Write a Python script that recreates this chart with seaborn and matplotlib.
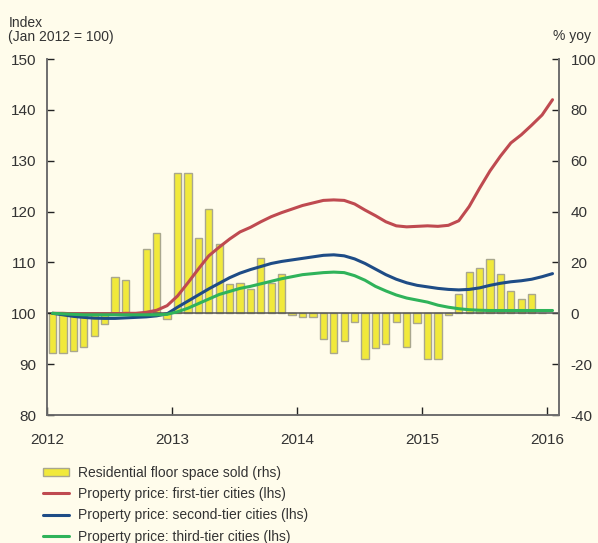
import numpy as np
import pandas as pd
import matplotlib
matplotlib.use("Agg")
import matplotlib.pyplot as plt
from matplotlib.patches import Patch
from matplotlib.lines import Line2D
import seaborn as sns

# monthly data, Jan 2012 onwards
floor_space = [  # % yoy, Jan 2012 - Dec 2015
    -15.7, -15.7, -14.8, -13.2, -8.9, -4.3, 14.4, 13.1, 0.0, 25.1, 31.7, -2.4,
    55.3, 55.3, 29.5, 41.1, 27.4, 11.7, 12.1, 9.7, 21.6, 11.8, 15.3, -0.7,
    -1.3, -1.3, -10.2, -15.7, -10.7, -3.4, -18.1, -13.5, -12.1, -3.3, -13.2, -3.9,
    -17.8, -17.8, -0.8, 7.5, 16.1, 17.9, 21.2, 15.4, 8.8, 5.8, 7.6, 0.3,
]
first_tier = [  # index, Jan 2012 - Jan 2016
    100.0, 100.0, 99.9, 99.9, 99.9, 99.9, 99.9, 100.0, 100.0, 100.2, 100.6, 101.5,
    103.4, 106.0, 108.7, 111.3, 113.0, 114.6, 116.0, 116.9, 118.0, 119.0, 119.8, 120.5,
    121.2, 121.7, 122.2, 122.3, 122.2, 121.5, 120.3, 119.2, 118.0, 117.2, 117.0, 117.1,
    117.2, 117.1, 117.3, 118.2, 121.0, 124.6, 128.0, 130.9, 133.5, 135.1, 137.0, 139.0,
    142.0,
]
second_tier = [
    100.0, 99.7, 99.4, 99.2, 99.05, 99.0, 99.0, 99.1, 99.2, 99.3, 99.5, 99.9,
    101.2, 102.4, 103.6, 104.8, 105.9, 107.0, 107.9, 108.6, 109.2, 109.8, 110.2, 110.5,
    110.8, 111.1, 111.4, 111.5, 111.3, 110.7, 109.8, 108.7, 107.6, 106.7, 106.0, 105.5,
    105.2, 104.9, 104.7, 104.6, 104.7, 105.0, 105.5, 105.9, 106.2, 106.4, 106.7, 107.2,
    107.8,
]
third_tier = [
    100.0, 99.9, 99.8, 99.7, 99.7, 99.7, 99.7, 99.7, 99.7, 99.7, 99.7, 99.8,
    100.3, 101.0, 101.9, 102.8, 103.7, 104.3, 104.9, 105.3, 105.8, 106.3, 106.8, 107.2,
    107.6, 107.8, 108.0, 108.1, 108.0, 107.4, 106.5, 105.3, 104.4, 103.6, 103.0, 102.6,
    102.2, 101.6, 101.2, 100.9, 100.7, 100.6, 100.55, 100.55, 100.55, 100.55, 100.55, 100.55,
    100.55,
]
year_ticks = [2012, 2013, 2014, 2015, 2016]

labels = ["Residential floor space sold (rhs)",
          "Property price: first-tier cities (lhs)",
          "Property price: second-tier cities (lhs)",
          "Property price: third-tier cities (lhs)"]
bar_col = "#f1e93b"
bar_edge = "#a9a78e"
line_cols = ["#bf4a50", "#1e4c86", "#2fb35a"]
bg = "#fffceb"
grey = "#6e6e6e"
txt = "#333333"

sns.set_style("ticks")
plt.rcParams["font.family"] = ["Liberation Sans", "DejaVu Sans"]
plt.rcParams["axes.unicode_minus"] = False

# month midpoints in decimal years
months = pd.date_range("2012-01-01", periods=len(first_tier), freq="MS")
xpos = months.year + (months.month - 0.5) / 12.0

lines = pd.concat([
    pd.DataFrame({"x": xpos, "value": first_tier, "series": labels[1]}),
    pd.DataFrame({"x": xpos, "value": second_tier, "series": labels[2]}),
    pd.DataFrame({"x": xpos, "value": third_tier, "series": labels[3]}),
])
bars = pd.DataFrame({"x": xpos[:len(floor_space)], "value": floor_space})

fig = plt.figure(figsize=(5.98, 5.43), dpi=100, facecolor=bg)
ax = fig.add_axes([0.0791, 0.2357, 0.8562, 0.6556])
ax2 = ax.twinx()
ax.set_zorder(ax2.get_zorder() + 1)
ax.patch.set_visible(False)
ax2.set_facecolor(bg)

sns.barplot(data=bars, x="x", y="value", native_scale=True, orient="x",
            width=0.7, color=bar_col, edgecolor=bar_edge, linewidth=1.0,
            saturation=1, errorbar=None, ax=ax2)
ax2.axhline(0, color="#555555", lw=1.1, zorder=5)

sns.lineplot(data=lines, x="x", y="value", hue="series",
             palette=line_cols, linewidth=2.2, legend=False, ax=ax)

xmin, xmax = 2012.0, 2016.096
ax.set_xlim(xmin, xmax)
ax2.set_xlim(xmin, xmax)
ax.set_ylim(80, 150)
ax2.set_ylim(-40, 100)
ax.set_yticks(range(80, 151, 10))
ax2.set_yticks(range(-40, 101, 20))
ax.set_xticks(year_ticks)
ax.set_xticklabels([str(y) for y in year_ticks])
ax2.set_xticks(year_ticks)
ax.set_xlabel("")
ax.set_ylabel("")
ax2.set_xlabel("")
ax2.set_ylabel("")

for a in (ax, ax2):
    for s in ["left", "right", "bottom"]:
        a.spines[s].set_color(grey)
        a.spines[s].set_linewidth(1.2)
        a.spines[s].set_visible(True)
    a.spines["top"].set_visible(False)
    a.tick_params(direction="in", length=5, width=1, color="#222222",
                  labelsize=11, labelcolor=txt, pad=8)
ax.tick_params(axis="x", length=6, pad=13)
ax2.tick_params(axis="x", labelbottom=False)

fig.text(0.014, 0.950, "Index", fontsize=10, color=txt, va="baseline")
fig.text(0.014, 0.924, "(Jan 2012 = 100)", fontsize=10, color=txt, va="baseline")
fig.text(0.988, 0.926, "% yoy", fontsize=10, color=txt, va="baseline", ha="right")

handles = [Patch(facecolor=bar_col, edgecolor=bar_edge, linewidth=1.0)]
handles += [Line2D([0], [0], color=c, lw=2.2) for c in line_cols]
fig.legend(handles, labels, loc="upper left", bbox_to_anchor=(0.072, 0.142),
           frameon=False, fontsize=10, handlelength=1.9, handleheight=0.6,
           handletextpad=0.6, labelspacing=0.52, borderpad=0, borderaxespad=0,
           labelcolor=txt)

fig.savefig("out.png", dpi=100, facecolor=bg)
